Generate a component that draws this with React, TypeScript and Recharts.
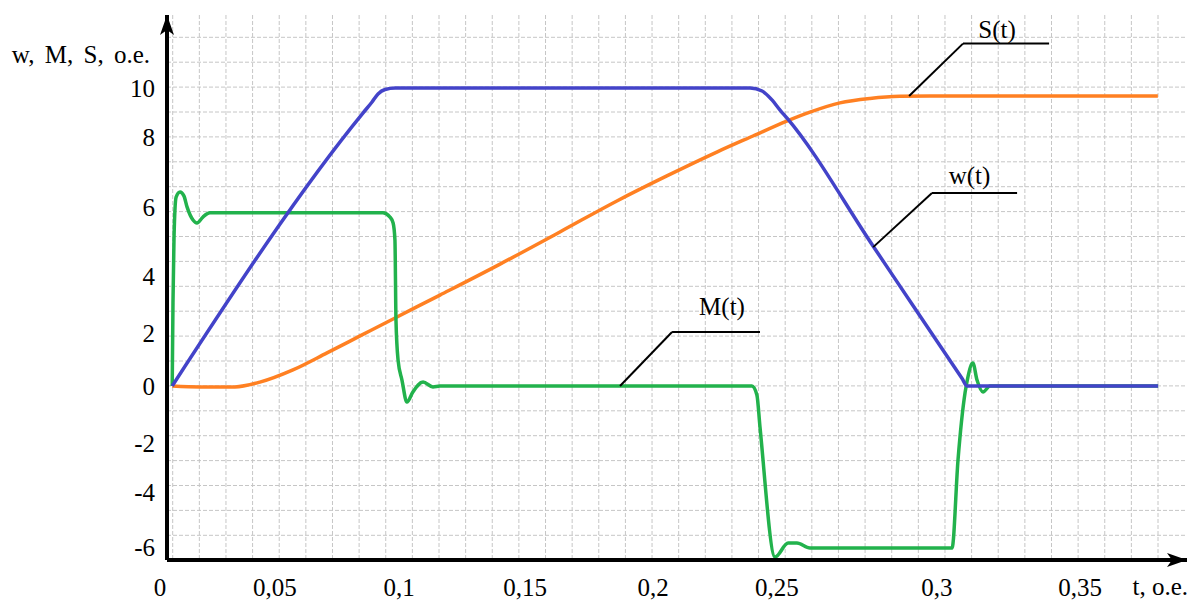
import React from 'react';
import { LineChart, Line, XAxis, YAxis, CartesianGrid, ReferenceLine, ReferenceDot } from 'recharts';

// w(t): speed
const wTime = [0, 0.0733, 0.0768, 0.0791, 0.0818, 0.0857, 0.2221, 0.2267, 0.2305, 0.2336, 0.2363, 0.2694, 0.285, 0.3035, 0.3055, 0.3789];
const wValue = [0, 9.16, 9.53, 9.8, 9.95, 10, 10, 9.9, 9.6, 9.26, 8.99, 4.69, 2.66, 0.26, 0, 0];

// S(t): path, orange curve
const sTime = [0, 0.0107, 0.0241, 0.0337, 0.0464, 0.0595, 0.0722, 0.0849, 0.1029, 0.126, 0.149, 0.1709, 0.1901, 0.2093, 0.2232, 0.2362, 0.2451, 0.2566, 0.2682, 0.2797, 0.2912, 0.3788];
const sValue = [0, -0.03, -0.03, 0.13, 0.54, 1.11, 1.68, 2.25, 3.05, 4.09, 5.17, 6.21, 7.05, 7.85, 8.39, 8.89, 9.19, 9.5, 9.65, 9.72, 9.73, 9.73];

// M(t): torque, green curve
const mTime = [0, 0.0003, 0.0007, 0.0015, 0.003, 0.0045, 0.0057, 0.008, 0.0095, 0.0118, 0.0145, 0.081, 0.0837, 0.0849, 0.0856, 0.086, 0.0868, 0.0883, 0.0902, 0.0925, 0.0964, 0.1002, 0.1029, 0.2228, 0.2247, 0.2259, 0.2317, 0.2367, 0.2401, 0.2451, 0.2997, 0.302, 0.3047, 0.3058, 0.3077, 0.3093, 0.3116, 0.3143, 0.3789];
const mValue = [0, 2.79, 5.0, 6.34, 6.51, 6.38, 6.01, 5.57, 5.47, 5.67, 5.81, 5.81, 5.67, 5.47, 4.9, 2.21, 0.87, 0.2, -0.54, -0.2, 0.13, -0.03, 0, 0, -0.3, -1.38, -5.74, -5.27, -5.27, -5.44, -5.44, -2.48, -0.23, 0.3, 0.77, 0.2, -0.2, 0, 0];

// tick labels and where they sit on the (hand-placed) axes
const xTickLabels = ['0', '0,05', '0,1', '0,15', '0,2', '0,25', '0,3', '0,35'];
const xTickAt = [-0.0047, 0.0395, 0.0872, 0.1356, 0.1848, 0.2324, 0.2939, 0.3489];
const yTickLabels = ['10', '8', '6', '4', '2', '0', '-2', '-4', '-6'];
const yTickAt = [10, 8.36, 5.99, 3.69, 1.78, 0, -1.91, -3.56, -5.4];

const wData = wTime.map((t, i) => ({ t, v: wValue[i] }));
const sData = sTime.map((t, i) => ({ t, v: sValue[i] }));
const mData = mTime.map((t, i) => ({ t, v: mValue[i] }));

const FONT = 'Liberation Serif, Times New Roman, serif';
const tickStyle = { fill: '#000', fontSize: 25, fontFamily: FONT };

// background graph paper
const vGrid = Array.from({ length: 38 }, (_, i) => 172.7 + i * 26.63);
const hGrid = Array.from({ length: 21 }, (_, i) => 37.3 + i * 24.9);

const callouts = [
  { name: 'S(t)', pts: [{ x: 0.2832, y: 9.73 }, { x: 0.3039, y: 11.49 }, { x: 0.337, y: 11.49 }], tx: 0.317, ty: 11.96 },
  { name: 'w(t)', pts: [{ x: 0.2694, y: 4.66 }, { x: 0.292, y: 6.48 }, { x: 0.3247, y: 6.48 }], tx: 0.3064, ty: 7.06 },
  { name: 'M(t)', pts: [{ x: 0.1721, y: 0 }, { x: 0.1921, y: 1.81 }, { x: 0.2259, y: 1.81 }], tx: 0.2113, ty: 2.68 },
];

export default function App() {
  return (
    <div style={{ position: 'absolute', left: 0, top: 0, width: 1191, height: 601, background: '#fff' }}>
      <LineChart width={1191} height={601} margin={{ top: 15, right: 4, left: 0, bottom: 0 }}>
        <defs>
          <marker id="arrowHead" markerUnits="userSpaceOnUse" markerWidth="20" markerHeight="14" refX="20" refY="7" orient="auto-start-reverse">
            <path d="M0,0 L20,7 L0,14 L5,7 z" fill="#000" />
          </marker>
        </defs>
        <CartesianGrid stroke="#c6c6c6" strokeDasharray="4 2" verticalPoints={vGrid} horizontalPoints={hGrid} />
        <XAxis
          type="number"
          dataKey="t"
          domain={[-0.002, 0.39]}
          allowDataOverflow
          ticks={xTickAt}
          interval={0}
          tickFormatter={(v) => xTickLabels[xTickAt.indexOf(v)]}
          tick={tickStyle}
          tickLine={false}
          tickSize={0}
          tickMargin={18}
          height={41}
          axisLine={{ stroke: '#000', strokeWidth: 4, markerEnd: 'url(#arrowHead)' }}
          label={({ viewBox }: any) => (
            <text x={viewBox.x + viewBox.width + 1} y={viewBox.y + 35} textAnchor="end" fontSize={25} fontFamily={FONT} fill="#000">
              t, o.e.
            </text>
          )}
        />
        <YAxis
          type="number"
          domain={[-5.84, 12.45]}
          allowDataOverflow
          ticks={yTickAt}
          interval={0}
          tickFormatter={(v) => yTickLabels[yTickAt.indexOf(v)]}
          tick={tickStyle}
          tickLine={false}
          tickSize={0}
          tickMargin={12}
          width={167}
          axisLine={{ stroke: '#000', strokeWidth: 4, markerStart: 'url(#arrowHead)' }}
          label={({ viewBox }: any) => (
            <text x={viewBox.x + viewBox.width - 17} y={viewBox.y + 48} textAnchor="end" fontSize={25} wordSpacing={4} fontFamily={FONT} fill="#000">
              w, M, S, o.e.
            </text>
          )}
        />
        <Line data={sData} dataKey="v" type="monotone" stroke="#ff8022" strokeWidth={3.5} dot={false} activeDot={false} isAnimationActive={false} />
        <Line data={mData} dataKey="v" type="monotone" stroke="#22b24c" strokeWidth={3.5} dot={false} activeDot={false} isAnimationActive={false} />
        <Line data={wData} dataKey="v" type="monotone" stroke="#4343c9" strokeWidth={3.5} dot={false} activeDot={false} isAnimationActive={false} />
        {callouts.map((c) => (
          <ReferenceLine key={c.name + 'a'} segment={[c.pts[0], c.pts[1]]} stroke="#000" strokeWidth={2} ifOverflow="visible" />
        ))}
        {callouts.map((c) => (
          <ReferenceLine key={c.name + 'b'} segment={[c.pts[1], c.pts[2]]} stroke="#000" strokeWidth={2} ifOverflow="visible" />
        ))}
        {callouts.map((c) => (
          <ReferenceDot
            key={c.name}
            x={c.tx}
            y={c.ty}
            r={0}
            fill="none"
            stroke="none"
            ifOverflow="visible"
            label={{ value: c.name, position: 'center', fill: '#000', fontSize: 25, fontFamily: FONT }}
          />
        ))}
      </LineChart>
    </div>
  );
}
